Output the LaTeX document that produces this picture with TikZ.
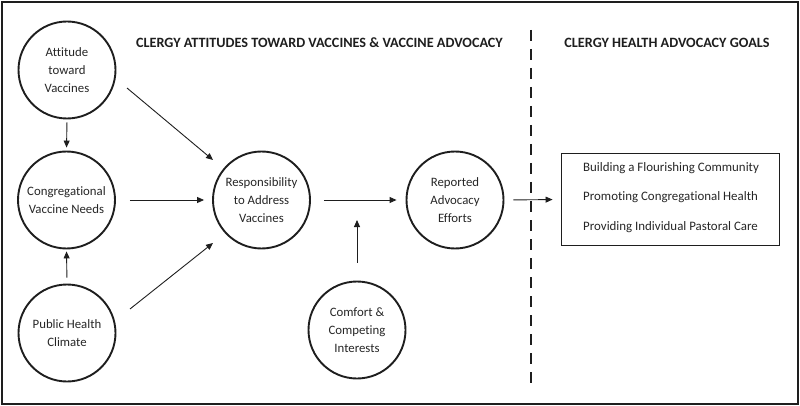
\documentclass[tikz,border=0pt]{standalone}
\usepackage{fontspec}
\setmainfont{Carlito}[Ligatures=NoCommon]
\usetikzlibrary{arrows.meta,calc}
\definecolor{ink}{HTML}{1E1E1E}
\definecolor{txt}{HTML}{262626}
\tikzset{
  circ/.style={circle,draw=ink,line width=1.9pt,minimum size=97pt,inner sep=0pt,align=center,
    text=txt,font=\fontsize{12.8}{18}\selectfont},
  arr/.style={draw=ink,line width=0.9pt,-{Triangle[length=7pt,width=6pt]}},
  head/.style={font=\bfseries\fontsize{14.2}{16}\selectfont,text=ink},
  goalbox/.style={rectangle,draw=ink,line width=1.9pt,minimum width=218pt,minimum height=92pt,inner sep=0pt},
  goaltext/.style={align=left,text=txt,font=\fontsize{12.9}{29.5}\selectfont,inner sep=0pt}
}
\begin{document}
\begin{tikzpicture}[x=1pt,y=-1pt]
\useasboundingbox (0,0) rectangle (800,406);
\draw[ink,line width=2.6pt] (2,2) rectangle (798,404);

\node[head] (h1) at (319.5,43) {CLERGY ATTITUDES TOWARD VACCINES \& VACCINE ADVOCACY};
\node[head] (h2) at (667,43) {CLERGY HEALTH ADVOCACY GOALS};

\node[circ] (att) at (67,70) {Attitude\\toward\\Vaccines};
\node[circ] (cong) at (66.5,200) {Congregational\\Vaccine Needs};
\node[circ] (pub) at (67,333) {Public Health\\Climate};
\node[circ] (resp) at (261.5,200) {Responsibility\\to Address\\Vaccines};
\node[circ] (rep) at (455,200) {Reported\\Advocacy\\Efforts};
\node[circ] (com) at (357,330) {Comfort \&\\Competing\\Interests};
\node[goalbox] (goal) at (670.5,199.5) {};
\node[goaltext,anchor=west] (goaltxt) at (583,197.5) {Building a Flourishing Community\\Promoting Congregational Health\\Providing Individual Pastoral Care};

\coordinate (mid) at (357,200);

\draw[ink,line width=2.8pt,dash pattern=on 11pt off 8pt] (531,30) coordinate (dtop) -- (531,384) coordinate (dbot);

\draw[arr,shorten <=3pt,shorten >=3pt] (att.south) -- (cong.north);
\draw[arr] ($(att.center)+(60,18)$) -- ($(resp.center)+(-48.5,-40)$);
\draw[arr,shorten <=14pt,shorten >=8pt] (cong.east) -- (resp.west);
\draw[arr,shorten <=6pt,shorten >=2pt] (pub.north) -- (cong.south);
\draw[arr] ($(pub.center)+(63,-24)$) -- ($(resp.center)+(-48.5,43)$);
\draw[arr,shorten <=13pt,shorten >=9pt] (resp.east) -- (rep.west);
\draw[arr,shorten <=18pt,shorten >=20pt] (com.north) -- (mid);
\draw[arr,shorten <=9pt,shorten >=8pt] (rep.east) -- (goal.west);
\end{tikzpicture}
\end{document}
